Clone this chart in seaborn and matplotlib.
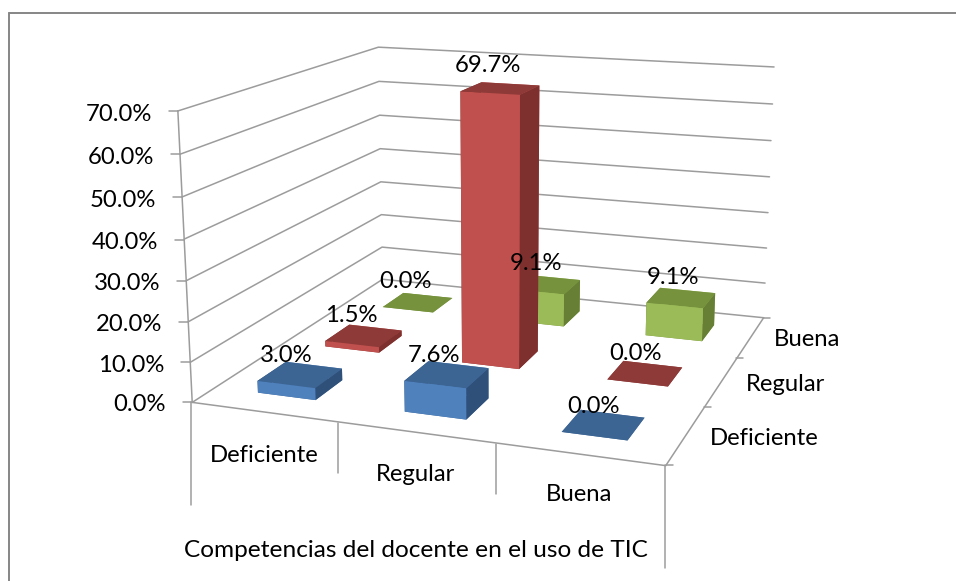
import matplotlib
matplotlib.use("Agg")
import matplotlib.pyplot as plt
from matplotlib.lines import Line2D
import seaborn as sns

# Chart values
categorias = ['Deficiente', 'Regular', 'Buena']
deficiente = [3.0, 7.6, 0.0]
regular = [1.5, 69.7, 0.0]
buena = [0.0, 9.1, 9.1]
ticks_z = [0, 10, 20, 30, 40, 50, 60, 70]
titulo_x = 'Competencias del docente en el uso de TIC'

# bottom, top, right side of each series
caras = {
    'deficiente': ('#3D6594', '#4F81BD', '#2F5079'),
    'regular': ('#8E3A38', '#C0504D', '#7D302E'),
    'buena': ('#76923C', '#9BBB59', '#667F35'),
}

# Pixel positions of the texts, same order as the series above
pos_etiquetas = {
    'deficiente': [(286, 354), (434, 354), (593, 405)],
    'regular': [(351, 314), (488, 64), (636, 352)],
    'buena': [(406, 280), (536, 262), (673, 276)],
}
pos_ticks = [(166, 403), (164, 364), (162, 323), (160, 282), (158, 241), (156, 199), (154, 156), (152, 113)]
pos_frente = [(264, 454), (416, 473), (579, 493)]
pos_lado = [(764, 437), (785, 383), (807, 338)]

W, H = 956, 581
GRIS = '#9C9C9C'
FS = 17.2

sns.set_theme(style='white')
plt.rcParams['font.family'] = ['Lato', 'DejaVu Sans']

fig = plt.figure(figsize=(W / 100, H / 100), dpi=100)
fig.patch.set_facecolor('white')

# Square 3D axes, runs past the top of the figure on purpose (fitted to the picture)
ax = fig.add_axes([212.75 / W, 68.66 / H, 560 / W, 560 / H], projection='3d')
ax.set_xlim(0, 3)
ax.set_ylim(0, 3)
ax.set_zlim(0, 70)
ax.set_proj_type('persp', focal_length=0.5332)
ax.view_init(elev=14.0867, azim=-70.3887)
ax.set_box_aspect((3.4316, 3.3456, 2.0869), zoom=1.2063)
ax.set_axis_off()
ax.computed_zorder = False


def linea_px(x0, y0, x1, y1, color=GRIS, lw=1.1):
    fig.add_artist(Line2D([x0 / W, x1 / W], [1 - y0 / H, 1 - y1 / H], color=color, lw=lw,
                          transform=fig.transFigure))


def texto_px(x, y, s, ha='center', fs=FS):
    # +1.5: va='center' sits a bit high with Lato
    fig.text(x / W, 1 - (y + 1.5) / H, s, ha=ha, va='center', fontsize=fs, color='black')


# Walls: left one and back one, no vertical lines at the back
for z in ticks_z:
    ax.plot([0, 0, 3], [0, 3, 3], [z, z, z], color=GRIS, lw=1.1, zorder=1, clip_on=False)
ax.plot([0, 0], [0, 0], [0, 70], color=GRIS, lw=1.1, zorder=1, clip_on=False)
ax.plot([0, 3, 3], [0, 0, 3], [0, 0, 0], color=GRIS, lw=1.1, zorder=1, clip_on=False)

# Bars, back to front so the tall one hides what is behind it
ancho = 0.4
orden = 2
for fila, (nombre, valores) in reversed(list(enumerate([('deficiente', deficiente), ('regular', regular), ('buena', buena)]))):
    arriba, frente, lado = caras[nombre]
    for col, v in enumerate(valores):
        barra = ax.bar3d(col + 0.5 - ancho / 2, fila + 0.5 - ancho / 2, 0, ancho, ancho, v,
                         color=[arriba, arriba, frente, frente, lado, lado],
                         shade=False, linewidth=0)
        barra.set_zorder(orden)
        orden += 1

# Drop lines under the floor and small ticks
linea_px(191, 402, 191, 505)
linea_px(338, 423, 338, 473)
linea_px(496, 444, 496, 494)
linea_px(665, 465, 665, 568)
for x, y in [(178, 111), (180, 154), (182, 197), (184, 240), (186, 281), (188, 322), (190, 362), (192, 402)]:
    linea_px(x - 9, y, x, y)
for x, y in [(763, 318), (736, 358), (704, 407), (666, 465)]:
    linea_px(x, y, x + 7, y)

# Chart frame, cut on the right and at the bottom
linea_px(9, 13, W, 13, color='#868686', lw=1.4)
linea_px(9, 13, 9, H, color='#868686', lw=1.4)

# Texts
for nombre, valores in [('deficiente', deficiente), ('regular', regular), ('buena', buena)]:
    for (x, y), v in zip(pos_etiquetas[nombre], valores):
        texto_px(x, y, f'{v:.1f}%')
for (x, y), z in zip(pos_ticks, ticks_z):
    texto_px(x, y, f'{z:.1f}%', ha='right')
for (x, y), s in zip(pos_frente, categorias):
    texto_px(x, y, s)
for (x, y), s in zip(pos_lado, categorias):
    texto_px(x, y, s)
texto_px(416, 549, titulo_x, fs=17.6)

fig.savefig('out.png', dpi=100, facecolor='white')
